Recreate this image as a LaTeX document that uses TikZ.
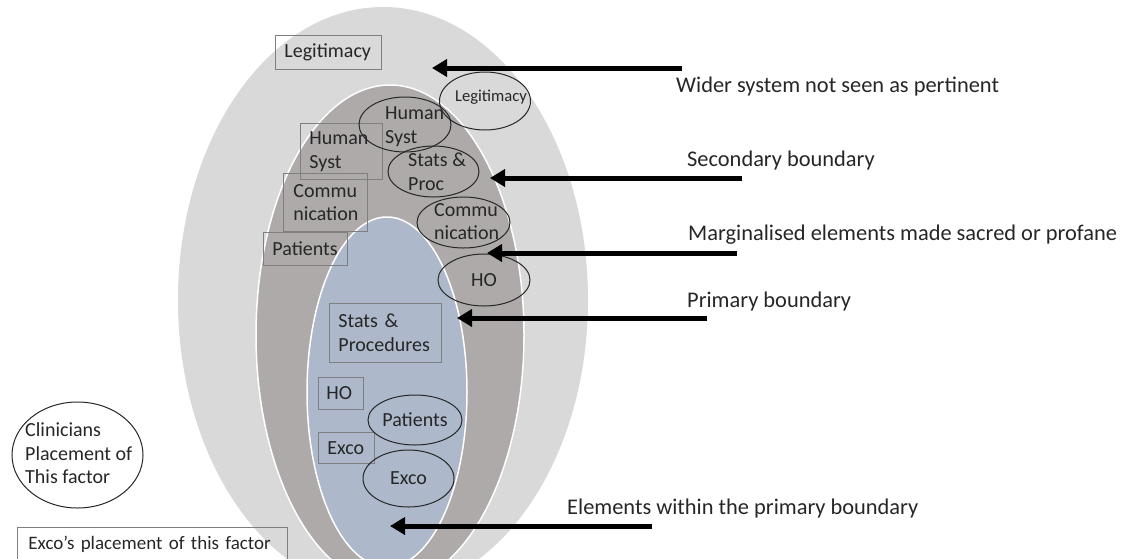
\documentclass[tikz,border=0pt]{standalone}
\usepackage{fontspec}
\setmainfont{Carlito}
\usetikzlibrary{arrows.meta,shapes.geometric}
\definecolor{outerfill}{HTML}{D9D9D9}
\definecolor{midfill}{HTML}{AEAAAA}
\definecolor{innerfill}{HTML}{ADB9CA}
\definecolor{ink}{HTML}{262626}
\definecolor{boxline}{HTML}{7F7F7F}
\begin{document}
\begin{tikzpicture}[x=1pt,y=-1pt,
  every node/.style={text=ink, font=\fontsize{20}{23.5}\selectfont},
  zone/.style={draw=white, line width=1.5pt},
  tagbox/.style={draw=boxline, line width=0.9pt, rectangle, anchor=north west,
    align=left, inner ysep=0pt},
  tagell/.style={draw=black!85, line width=1pt, ellipse, inner sep=0pt},
  tagtxt/.style={inner sep=0pt, align=left, anchor=west},
  callout/.style={draw=black, line width=5pt, -{Triangle[length=15pt,width=17pt]}},
  note/.style={font=\fontsize{22.4}{26}\selectfont, anchor=west, inner sep=0pt}
]
\useasboundingbox (0,0) rectangle (1124,558);

\begin{scope}
  \clip (0,0) rectangle (1124,558);
  % nested zones: wider system, secondary and primary boundaries
  \fill[outerfill] (383,300) ellipse [x radius=205, y radius=293];
  \filldraw[fill=midfill, zone] (390,335) ellipse [x radius=134, y radius=250];
  \filldraw[fill=innerfill, zone] (387,392) ellipse [x radius=80, y radius=175];

  % legend box for Exco's placement
  \node[tagbox, text width=248pt, inner xsep=11pt, minimum height=33pt,
    font=\fontsize{19}{23}\selectfont]
    (legExco) at (17,527) {Exco’s placement of this factor};
\end{scope}

% Exco's placements (boxes)
\node[tagbox, text width=88pt, inner xsep=9pt, minimum height=34pt]
  (bLeg) at (275,35) {Legitimacy};
\node[tagbox, text width=64pt, inner xsep=9pt, minimum height=56pt]
  (bHum) at (300,123) {Human\\Syst};
\node[tagbox, text width=64pt, inner xsep=10pt, minimum height=58pt]
  (bCom) at (283,173) {Commu\\nication};
\node[tagbox, text width=66pt, inner xsep=9pt, minimum height=33pt]
  (bPat) at (263,232) {Patients};
\node[tagbox, text width=94pt, inner xsep=9pt, minimum height=59pt]
  (bSta) at (329,303) {Stats \&\\Procedures};
\node[tagbox, text width=29pt, inner xsep=8pt, minimum height=32pt]
  (bHO) at (318,377) {HO};
\node[tagbox, text width=38pt, inner xsep=9pt, minimum height=31pt]
  (bExc) at (318,432) {Exco};

% Clinicians' placements (ellipses)
\node[tagell, minimum width=91pt, minimum height=58pt] (eLeg) at (485,101) {};
\node[tagtxt, anchor=center, font=\fontsize{16.6}{20}\selectfont] (tLeg) at (491,97) {Legitimacy};

\node[tagell, minimum width=92pt, minimum height=55pt] (eHum) at (405,124.5) {};
\node[tagtxt] (tHum) at (385,126.5) {Human\\Syst};

\node[tagell, minimum width=91pt, minimum height=51pt] (eSta) at (433.5,171.5) {};
\node[tagtxt] (tSta) at (408,171.5) {Stats \&\\Proc};

\node[tagell, minimum width=93pt, minimum height=51pt] (eCom) at (463.5,222.5) {};
\node[tagtxt] (tCom) at (434,221.5) {Commu\\nication};

\node[tagell, minimum width=92pt, minimum height=52pt] (eHO) at (484,280) {HO};
\node[tagell, minimum width=94pt, minimum height=50pt] (ePat) at (415,420) {Patients};
\node[tagell, minimum width=91pt, minimum height=57pt] (eExc) at (408.5,478.5) {Exco};

% legend ellipse for the clinicians
\node[tagell, minimum width=131pt, minimum height=106pt] (legCli) at (77.5,455) {};
\node[tagtxt] (tCli) at (25,453.5) {Clinicians\\Placement of\\This factor};

% callouts on the right
\coordinate (s1) at (682,68);  \coordinate (p1) at (432,68);
\coordinate (s2) at (742,178); \coordinate (p2) at (490,178);
\coordinate (s3) at (737,253); \coordinate (p3) at (487,253);
\coordinate (s4) at (707,318); \coordinate (p4) at (457,318);
\coordinate (s5) at (652,526); \coordinate (p5) at (390,526);
\draw[callout] (s1) -- (p1);
\draw[callout] (s2) -- (p2);
\draw[callout] (s3) -- (p3);
\draw[callout] (s4) -- (p4);
\draw[callout] (s5) -- (p5);

\node[note] (n1) at (676,87)  {Wider system not seen as pertinent};
\node[note] (n2) at (687,161) {Secondary boundary};
\node[note] (n3) at (688,235) {Marginalised elements made sacred or profane};
\node[note] (n4) at (687,302) {Primary boundary};
\node[note] (n5) at (567,509) {Elements within the primary boundary};
\end{tikzpicture}
\end{document}
